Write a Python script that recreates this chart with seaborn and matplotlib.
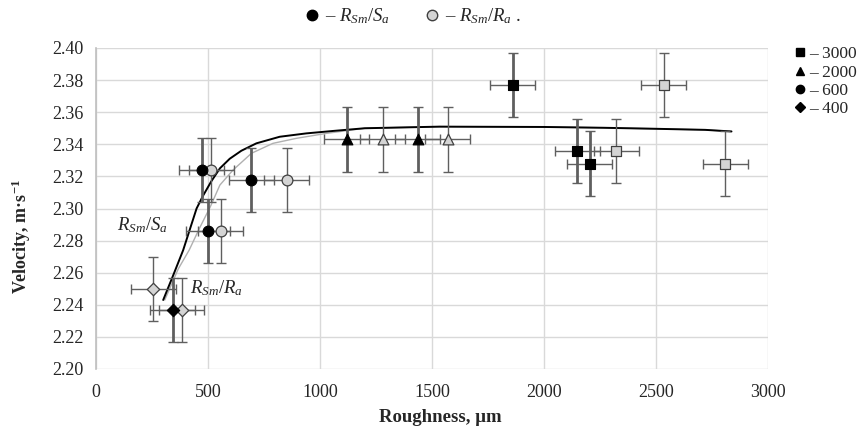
import numpy as np
import pandas as pd
import matplotlib
matplotlib.use("Agg")
import matplotlib.pyplot as plt
from matplotlib.lines import Line2D
import seaborn as sns

# ---- data ----
group_labels = ["3000", "2000", "600", "400"]
group_markers = {"3000": "s", "2000": "^", "600": "o", "400": "D"}

sa_x = [1860, 2149, 2204, 1120, 1436, 472, 500, 694, 342]
sa_y = [2.377, 2.336, 2.328, 2.343, 2.343, 2.324, 2.286, 2.318, 2.237]
sa_grp = ["3000", "3000", "3000", "2000", "2000", "600", "600", "600", "400"]

ra_x = [2535, 2323, 2810, 1280, 1570, 514, 557, 852, 255, 382]
ra_y = [2.377, 2.336, 2.328, 2.343, 2.343, 2.324, 2.286, 2.318, 2.250, 2.237]
ra_grp = ["3000", "3000", "3000", "2000", "2000", "600", "600", "600", "400", "400"]

x_err = 100
y_err = 0.02

curve_sa_x = [300, 345, 389, 449, 478, 515, 553, 597, 649, 716, 820, 939, 1057, 1200, 1533, 2000, 2264, 2486, 2720, 2837]
curve_sa_y = [2.243, 2.2585, 2.274, 2.300, 2.308, 2.317, 2.325, 2.331, 2.336, 2.3406, 2.3447, 2.3468, 2.3483, 2.3500, 2.3510, 2.3508, 2.3503, 2.3497, 2.3490, 2.3480]

curve_ra_x = [307, 367, 416, 463, 510, 553, 612, 694, 790, 894, 1028, 1200, 1533, 2000, 2264, 2486, 2720, 2837]
curve_ra_y = [2.243, 2.2623, 2.2741, 2.288, 2.301, 2.3146, 2.324, 2.3344, 2.3406, 2.3437, 2.3468, 2.3500, 2.3510, 2.3508, 2.3503, 2.3497, 2.3490, 2.3480]

x_ticks = [0, 500, 1000, 1500, 2000, 2500, 3000]
y_ticks = [2.20, 2.22, 2.24, 2.26, 2.28, 2.30, 2.32, 2.34, 2.36, 2.38, 2.40]

# ---- style ----
sns.set_style("whitegrid")
plt.rcParams["font.family"] = ["Liberation Serif", "DejaVu Serif"]
plt.rcParams["mathtext.fontset"] = "custom"
plt.rcParams["mathtext.rm"] = "Liberation Serif"
plt.rcParams["mathtext.it"] = "Liberation Serif:italic"
plt.rcParams["mathtext.bf"] = "Liberation Serif:bold"

fig = plt.figure(figsize=(8.59, 4.29), dpi=100)
ax = fig.add_axes([96 / 859, 1 - 369 / 429, (768 - 96) / 859, (369 - 48) / 429])

grid_c = "#d9d9d9"
err_c = "#5f5f5f"
gray_fill = "#d4d4d4"

df_sa = pd.DataFrame({"x": sa_x, "y": sa_y, "g": sa_grp})
df_ra = pd.DataFrame({"x": ra_x, "y": ra_y, "g": ra_grp})

# curves
sns.lineplot(x=curve_ra_x, y=curve_ra_y, ax=ax, color="#b0b0b0", lw=1.0, sort=False, zorder=2)
sns.lineplot(x=curve_sa_x, y=curve_sa_y, ax=ax, color="black", lw=1.4, sort=False, zorder=3)

# error bars
ax.errorbar(df_ra["x"], df_ra["y"], xerr=x_err, yerr=y_err, fmt="none", ecolor=err_c,
            elinewidth=1.0, capsize=3.5, capthick=1.0, zorder=4)
ax.errorbar(df_sa["x"], df_sa["y"], xerr=x_err, fmt="none", ecolor=err_c,
            elinewidth=1.0, capsize=3.5, capthick=1.0, zorder=4)
ax.errorbar(df_sa["x"], df_sa["y"], yerr=y_err, fmt="none", ecolor=err_c,
            elinewidth=2.0, capsize=3.5, capthick=1.0, zorder=4)

sizes = {"3000": 60, "2000": 60, "600": 60, "400": 40}
for g in group_labels:
    sub = df_ra[df_ra["g"] == g]
    sns.scatterplot(data=sub, x="x", y="y", ax=ax, marker=group_markers[g], s=sizes[g],
                    color=gray_fill, edgecolor="#404040", linewidth=0.9, zorder=5, legend=False)
    sub = df_sa[df_sa["g"] == g]
    sns.scatterplot(data=sub, x="x", y="y", ax=ax, marker=group_markers[g], s=sizes[g],
                    color="black", edgecolor="black", linewidth=0.8, zorder=6, legend=False)

ax.set_xlim(0, 3000)
ax.set_ylim(2.20, 2.40)
ax.set_xticks(x_ticks)
ax.set_yticks(y_ticks)
ax.set_xticklabels([str(t) for t in x_ticks])
ax.set_yticklabels([f"{t:.2f}" for t in y_ticks])
ax.tick_params(axis="x", labelsize=13, length=0, pad=11)
ax.tick_params(axis="y", labelsize=13, length=0, pad=9)
ax.grid(True, color=grid_c, lw=1.0)
for s in ["top", "right", "bottom"]:
    ax.spines[s].set_visible(False)
ax.spines["left"].set_color("#bfbfbf")
ax.spines["left"].set_linewidth(1.2)

ax.set_xlabel("Roughness, μm", fontsize=13.5, fontweight="bold")
ax.xaxis.set_label_coords((440 - 96) / 672, -(418 - 369) / 321)
ax.xaxis.label.set_va("center")
ax.set_ylabel("Velocity, m·s$^{\\mathbf{-1}}$", fontsize=13, fontweight="bold")
ax.yaxis.set_label_coords((21 - 96) / 672, 1 - (236 - 48) / 321)
ax.yaxis.label.set_va("center")

ax.text(205, 2.2897, "$R_{Sm}/S_a$", fontsize=13.5, ha="center", va="center", zorder=7)
ax.text(539, 2.2505, "$R_{Sm}/R_a$", fontsize=13.5, ha="center", va="center", zorder=7)

# top legend
top_handles = [
    Line2D([], [], ls="none", marker="o", ms=7.5, mfc="black", mec="black"),
    Line2D([], [], ls="none", marker="o", ms=7.5, mfc=gray_fill, mec="#404040"),
]
top_labels = ["– $R_{Sm}/S_a$", "– $R_{Sm}/R_a$ ."]
fig.legend(top_handles, top_labels, loc="upper center", bbox_to_anchor=(413 / 859, 1.025), ncol=2,
           frameon=False, fontsize=13.5, handlelength=0.7, handletextpad=0.35, columnspacing=1.9)

# right legend
side_handles = [
    Line2D([], [], ls="none", marker="s", ms=6, mfc="black", mec="black"),
    Line2D([], [], ls="none", marker="^", ms=6, mfc="black", mec="black"),
    Line2D([], [], ls="none", marker="o", ms=6, mfc="black", mec="black"),
    Line2D([], [], ls="none", marker="D", ms=4.8, mfc="black", mec="black"),
]
side_labels = ["– " + g for g in group_labels]
ax.legend(side_handles, side_labels, loc="upper left", bbox_to_anchor=(1.03, 1.027), frameon=False,
          fontsize=12.5, handlelength=0.6, handletextpad=0.2, labelspacing=0.12, borderaxespad=0)

fig.savefig("out.png", dpi=100)
